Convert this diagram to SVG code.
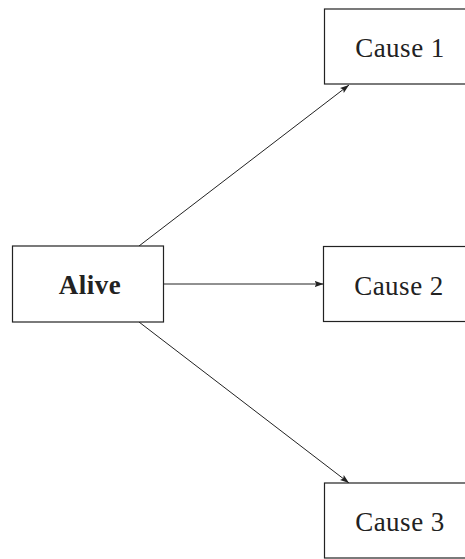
<svg xmlns="http://www.w3.org/2000/svg" width="465" height="559" viewBox="0 0 465 559">
<defs>
<style>
.box{fill:#fff;stroke:#222;stroke-width:1.2}
.lbl{font-family:"Liberation Serif","DejaVu Serif",serif;font-size:27px;fill:#222;text-anchor:middle;letter-spacing:0.5px}
.b{font-weight:bold}
.edge{stroke:#222;stroke-width:1;fill:none;marker-end:url(#ah)}
</style>
<marker id="ah" viewBox="0 0 10 10" refX="10" refY="5" markerWidth="9" markerHeight="9" markerUnits="userSpaceOnUse" orient="auto">
<path d="M0,1.5 L10,5 L0,8.5 L2,5 Z" fill="#222"/>
</marker>
</defs>
<rect width="465" height="559" fill="#fff"/>
<g id="connectors">
<line class="edge" x1="139" y1="246" x2="349" y2="85"/>
<line class="edge" x1="163.5" y1="284" x2="323.5" y2="284"/>
<line class="edge" x1="139" y1="322" x2="349" y2="483"/>
</g>
<g id="alive">
<rect class="box" x="12.5" y="246" width="151" height="76"/>
<text class="lbl b" x="90" y="294">Alive</text>
</g>
<g id="cause1">
<rect class="box" x="324.5" y="9" width="151" height="75"/>
<text class="lbl" x="400" y="57">Cause 1</text>
</g>
<g id="cause2">
<rect class="box" x="323.5" y="246.5" width="151" height="75"/>
<text class="lbl" x="399" y="294.5">Cause 2</text>
</g>
<g id="cause3">
<rect class="box" x="324.5" y="483" width="151" height="75"/>
<text class="lbl" x="400" y="531">Cause 3</text>
</g>
</svg>
